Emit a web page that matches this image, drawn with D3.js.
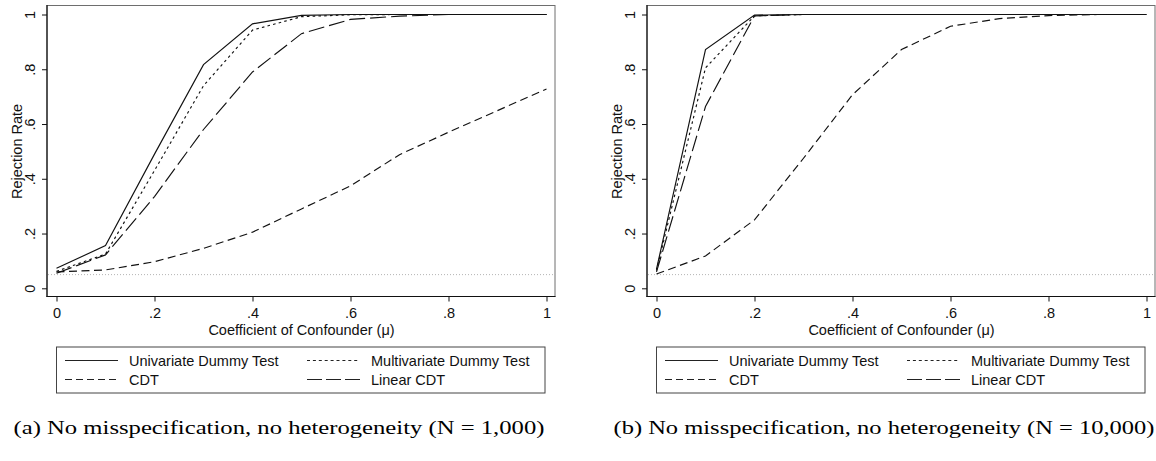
<!DOCTYPE html>
<html>
<head>
<meta charset="utf-8">
<script src="https://cdn.jsdelivr.net/npm/d3@7"></script>
<style>
body { margin: 0; background: #fff; }
svg { display: block; }
</style>
</head>
<body>
<svg id="chart" width="1156" height="461"></svg>
<script>
// coefficient of confounder (mu)
const mu = [0, 0.1, 0.2, 0.3, 0.4, 0.5, 0.6, 0.7, 0.8, 0.9, 1];

const xTicks = [0, 0.2, 0.4, 0.6, 0.8, 1];
const xTickLabels = ["0", ".2", ".4", ".6", ".8", "1"];
const yTicks = [0, 0.2, 0.4, 0.6, 0.8, 1];
const yTickLabels = ["0", ".2", ".4", ".6", ".8", "1"];

const nominalLevel = 0.05;

// panel (a): N = 1,000
const univA = [0.073, 0.156, 0.49, 0.817, 0.966, 0.997, 1, 1, 1, 1, 1];
const multiA = [0.062, 0.125, 0.43, 0.74, 0.943, 0.992, 0.999, 1, 1, 1, 1];
const cdtA = [0.06, 0.067, 0.097, 0.146, 0.205, 0.29, 0.374, 0.488, 0.57, 0.649, 0.728];
const linA = [0.055, 0.122, 0.335, 0.58, 0.79, 0.93, 0.982, 0.994, 1, 1, 1];

// panel (b): N = 10,000
const univB = [0.07, 0.872, 0.998, 1, 1, 1, 1, 1, 1, 1, 1];
const multiB = [0.065, 0.805, 0.995, 1, 1, 1, 1, 1, 1, 1, 1];
const cdtB = [0.052, 0.118, 0.25, 0.475, 0.707, 0.872, 0.957, 0.985, 0.996, 1, 1];
const linB = [0.06, 0.664, 0.995, 1, 1, 1, 1, 1, 1, 1, 1];

const seriesNames = ["Univariate Dummy Test", "Multivariate Dummy Test", "CDT", "Linear CDT"];
const captions = [
    "(a) No misspecification, no heterogeneity (N = 1,000)",
    "(b) No misspecification, no heterogeneity (N = 10,000)"
];

// dash patterns: solid, dot, dash, long dash
const plotDash = [null, "2.6,3.2", "8,4.5", "16,5"];
const legendDash = [null, "3,2.9", "7,4", "15,4"];

const svg = d3.select("#chart");
const font = "'Liberation Sans', Arial, Helvetica, sans-serif";

drawPanel(0, [univA, multiA, cdtA, linA], captions[0], 531);
drawPanel(600, [univB, multiB, cdtB, linB], captions[1], 541);

function drawPanel(offset, series, caption, captionWidth) {
    const frame = { left: 47, right: 555, top: 5.5, bottom: 296.5 };

    const x = d3.scaleLinear()
        .domain([0, 1])
        .range([56.5, 546.5]);

    const y = d3.scaleLinear()
        .domain([0, 1])
        .range([288.3, 14.5]);

    const g = svg.append("g")
        .attr("transform", `translate(${offset},0)`)
        .style("font-family", font);

    // plot region outline
    g.append("rect")
        .attr("x", frame.left)
        .attr("y", frame.top)
        .attr("width", frame.right - frame.left)
        .attr("height", frame.bottom - frame.top)
        .attr("fill", "none")
        .attr("stroke", "#6e6e6e")
        .attr("stroke-width", 1);

    // nominal level reference line
    g.append("line")
        .attr("x1", frame.left + 1)
        .attr("x2", frame.right - 1)
        .attr("y1", y(nominalLevel))
        .attr("y2", y(nominalLevel))
        .attr("stroke", "#b4b4b4")
        .attr("stroke-width", 1)
        .attr("stroke-dasharray", "1,2");

    const line = d3.line()
        .x((d, i) => x(mu[i]))
        .y(d => y(d));

    series.forEach((s, k) => {
        g.append("path")
            .datum(s)
            .attr("d", line)
            .attr("fill", "none")
            .attr("stroke", "#111")
            .attr("stroke-width", 1.15)
            .attr("stroke-dasharray", plotDash[k]);
    });

    // axes
    const yAxis = g.append("g")
        .attr("transform", `translate(${frame.left},0)`)
        .call(d3.axisLeft(y)
            .tickValues(yTicks)
            .tickSize(5)
            .tickFormat((d, i) => yTickLabels[i]));
    yAxis.select(".domain").remove();
    yAxis.selectAll("line").attr("stroke", "#111");
    yAxis.selectAll("text")
        .attr("x", null)
        .attr("dy", null)
        .attr("text-anchor", "middle")
        .attr("transform", "translate(-12,0) rotate(-90)")
        .style("font-size", "14.5px")
        .attr("fill", "#111");

    const xAxis = g.append("g")
        .attr("transform", `translate(0,${frame.bottom})`)
        .call(d3.axisBottom(x)
            .tickValues(xTicks)
            .tickSize(5)
            .tickPadding(6)
            .tickFormat((d, i) => xTickLabels[i]));
    xAxis.select(".domain").remove();
    xAxis.selectAll("line").attr("stroke", "#111");
    xAxis.selectAll("text")
        .style("font-size", "14.5px")
        .attr("fill", "#111");

    g.append("line")
        .attr("x1", frame.left).attr("x2", frame.left)
        .attr("y1", frame.top - 0.5).attr("y2", frame.bottom + 0.5)
        .attr("stroke", "#111").attr("stroke-width", 1.2);
    g.append("line")
        .attr("x1", frame.left - 0.5).attr("x2", frame.right + 0.5)
        .attr("y1", frame.bottom).attr("y2", frame.bottom)
        .attr("stroke", "#111").attr("stroke-width", 1.2);

    // axis titles
    g.append("text")
        .attr("transform", `translate(22,${(y(0) + y(1)) / 2}) rotate(-90)`)
        .attr("text-anchor", "middle")
        .style("font-size", "14.5px")
        .attr("fill", "#111")
        .text("Rejection Rate");

    g.append("text")
        .attr("x", (x(0) + x(1)) / 2)
        .attr("y", 335)
        .attr("text-anchor", "middle")
        .style("font-size", "14.5px")
        .attr("fill", "#111")
        .text("Coefficient of Confounder (\u03bc)");

    // legend
    const legend = g.append("g");
    legend.append("rect")
        .attr("x", 56.5)
        .attr("y", 347)
        .attr("width", 488.5)
        .attr("height", 46)
        .attr("fill", "#fff")
        .attr("stroke", "#444")
        .attr("stroke-width", 1);

    const cols = [65, 307];
    const rows = [360.5, 379.5];
    seriesNames.forEach((name, k) => {
        const cx = cols[k % 2];
        const cy = rows[Math.floor(k / 2)];
        legend.append("line")
            .attr("x1", cx)
            .attr("x2", cx + 53)
            .attr("y1", cy)
            .attr("y2", cy)
            .attr("stroke", "#222")
            .attr("stroke-width", 1.1)
            .attr("stroke-dasharray", legendDash[k]);
        legend.append("text")
            .attr("x", cx + 64)
            .attr("y", cy + 5)
            .style("font-size", "14.5px")
            .attr("fill", "#111")
            .text(name);
    });

    // caption below the graph
    g.append("text")
        .attr("x", 13.5)
        .attr("y", 434)
        .attr("textLength", captionWidth)
        .attr("lengthAdjust", "spacingAndGlyphs")
        .style("font-family", "'Liberation Serif', 'Times New Roman', serif")
        .style("font-size", "19px")
        .attr("fill", "#000")
        .text(caption);
}
</script>
</body>
</html>
